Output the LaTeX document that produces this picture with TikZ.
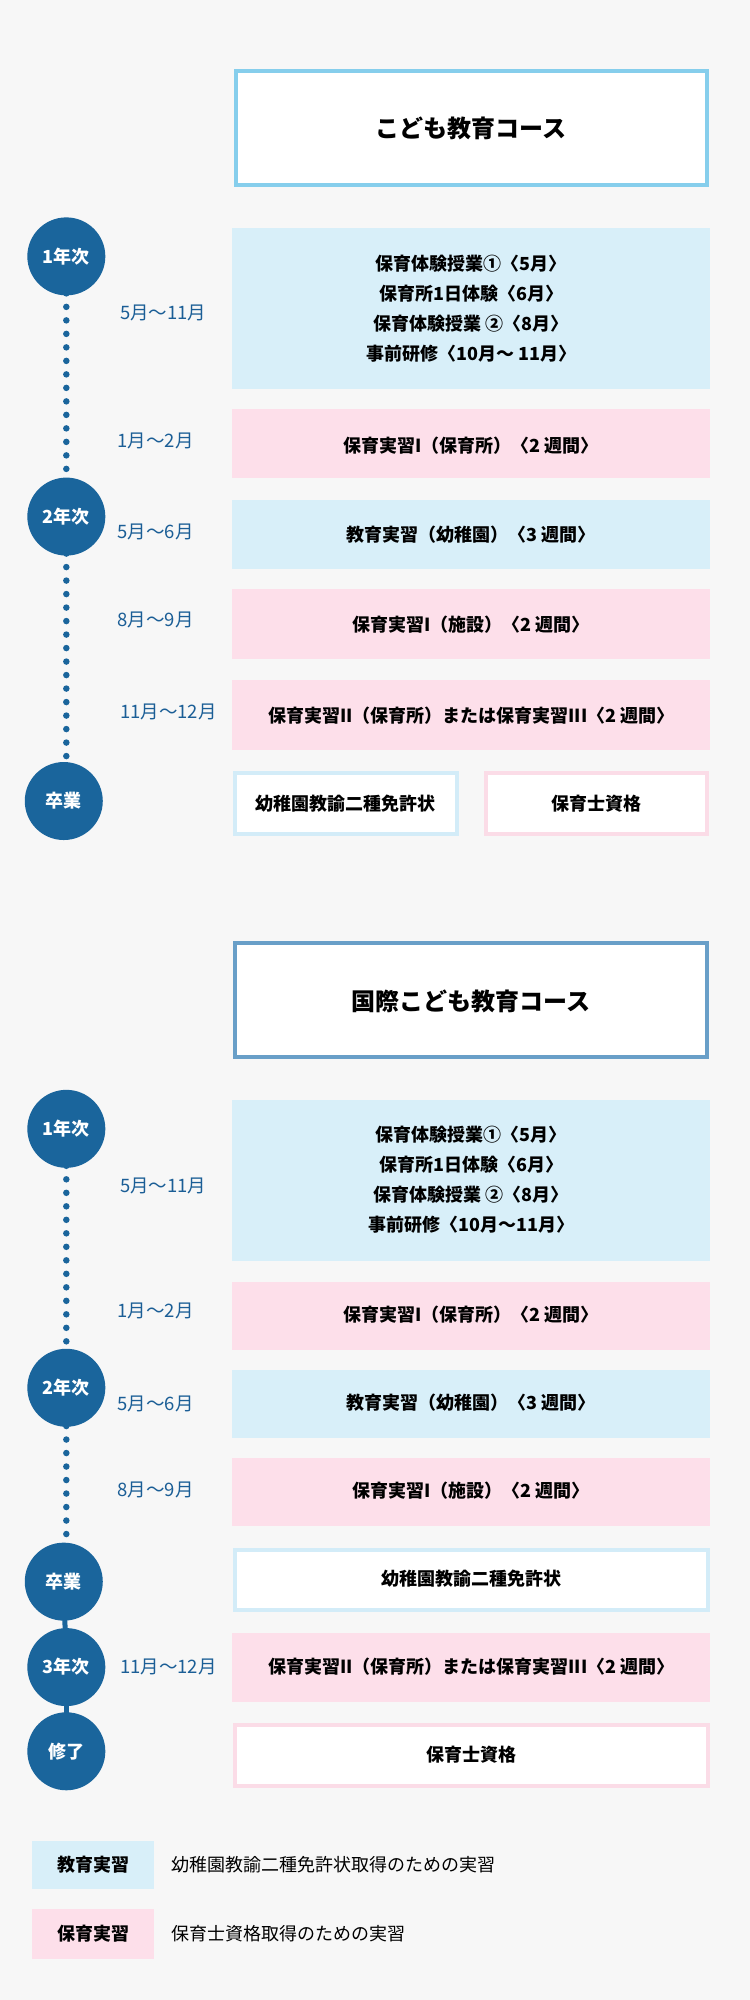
\documentclass[tikz,border=0pt]{standalone}
\usepackage{fontspec}
\setmainfont{Noto Sans CJK JP}
\definecolor{bg}{HTML}{F7F7F7}
\definecolor{lb}{HTML}{D8EFF9}
\definecolor{pk}{HTML}{FDDFEA}
\definecolor{circ}{HTML}{1A659C}
\definecolor{mon}{HTML}{1B5E96}
\definecolor{tb1}{HTML}{86CEEC}
\definecolor{tb2}{HTML}{699FC8}
\definecolor{cbl}{HTML}{D3ECF8}
\definecolor{cpk}{HTML}{FBDCE7}
\begin{document}
\begin{tikzpicture}[x=1.2755pt,y=-1.2755pt,
 yr/.style={circle,fill=circ,minimum size=78pt,inner sep=0pt,text=white,font=\fontsize{18}{20}\selectfont\bfseries},
 mo/.style={text=mon,font=\fontsize{18.5}{20}\selectfont},
 bt/.style={font=\fontsize{18}{30}\selectfont\bfseries,align=center},
 dots/.style={circ,line width=6.5pt,line cap=round,dash pattern=on 0pt off 13.5pt}]
\fill[bg] (0,0) rectangle (588,1568);
% section 1
\draw[tb1,line width=4pt,fill=white] (185,56) rectangle (554,145);
\node[font=\fontsize{24}{26}\selectfont\bfseries] (t1) at (369.5,101) {こども教育コース};
\draw[dots] (52,230) -- (52,376);
\draw[dots] (52,434) -- (52,598);
\node[yr] (y1) at (52,201) {1年次};
\node[yr] (y2) at (52,405) {2年次};
\node[yr] (g1) at (50,628) {卒業};
\fill[lb] (182,179) rectangle (557,305);
\node[bt] (a1) at (369.5,242) {保育体験授業①〈5月〉\\保育所1日体験〈6月〉\\保育体験授業 ②〈8月〉\\事前研修〈10月〜 11月〉};
\node[mo] (m1) at (128,245) {5月〜11月};
\fill[pk] (182,321) rectangle (557,375);
\node[bt] (b1) at (369.5,349) {保育実習I（保育所）〈2 週間〉};
\node[mo] (m2) at (122,346) {1月〜2月};
\fill[lb] (182,392) rectangle (557,446);
\node[bt] (c1) at (369.5,419) {教育実習（幼稚園）〈3 週間〉};
\node[mo] (m3) at (122,417) {5月〜6月};
\fill[pk] (182,462) rectangle (557,517);
\node[bt] (d1) at (369.5,490) {保育実習I（施設）〈2 週間〉};
\node[mo] (m4) at (122,486) {8月〜9月};
\fill[pk] (182,533) rectangle (557,588);
\node[bt] (e1) at (369.5,561) {保育実習II（保育所）または保育実習III〈2 週間〉};
\node[mo] (m5) at (132,558) {11月〜12月};
\draw[cbl,line width=4pt,fill=white] (184,606) rectangle (358,654);
\node[bt] (k1) at (271,630) {幼稚園教諭二種免許状};
\draw[cpk,line width=4pt,fill=white] (381,606) rectangle (554,654);
\node[bt] (h1) at (467.5,630) {保育士資格};
% section 2
\draw[tb2,line width=4pt,fill=white] (184,739) rectangle (554,829);
\node[font=\fontsize{24}{26}\selectfont\bfseries] (t2) at (369,785) {国際こども教育コース};
\draw[dots] (52,914) -- (52,1060);
\draw[dots] (52,1118) -- (52,1210);
\draw[circ,line width=5pt] (50,1250) -- (52,1300);
\draw[circ,line width=5pt] (52,1320) -- (52,1365);
\node[yr] (y3) at (52,885) {1年次};
\node[yr] (y4) at (52,1088) {2年次};
\node[yr] (g2) at (50,1240) {卒業};
\node[yr] (y5) at (52,1307) {3年次};
\node[yr] (s2) at (52,1373) {修了};
\fill[lb] (182,862) rectangle (557,989);
\node[bt] (a2) at (369.5,925) {保育体験授業①〈5月〉\\保育所1日体験〈6月〉\\保育体験授業 ②〈8月〉\\事前研修〈10月〜11月〉};
\node[mo] (n1) at (128,930) {5月〜11月};
\fill[pk] (182,1005) rectangle (557,1058);
\node[bt] (b2) at (369.5,1031) {保育実習I（保育所）〈2 週間〉};
\node[mo] (n2) at (122,1028) {1月〜2月};
\fill[lb] (182,1074) rectangle (557,1127);
\node[bt] (c2) at (369.5,1100) {教育実習（幼稚園）〈3 週間〉};
\node[mo] (n3) at (122,1101) {5月〜6月};
\fill[pk] (182,1143) rectangle (557,1196);
\node[bt] (d2) at (369.5,1169) {保育実習I（施設）〈2 週間〉};
\node[mo] (n4) at (122,1168) {8月〜9月};
\draw[cbl,line width=4pt,fill=white] (184,1215) rectangle (555,1262);
\node[bt] (k2) at (369.5,1238) {幼稚園教諭二種免許状};
\fill[pk] (182,1280) rectangle (557,1334);
\node[bt] (e2) at (369.5,1307) {保育実習II（保育所）または保育実習III〈2 週間〉};
\node[mo] (n5) at (132,1307) {11月〜12月};
\draw[cpk,line width=4pt,fill=white] (184,1352) rectangle (555,1400);
\node[bt] (h2) at (369.5,1376) {保育士資格};
% legend
\fill[lb] (25,1443) rectangle (121,1481);
\node[bt] (l1) at (73,1462) {教育実習};
\node[anchor=west,font=\fontsize{18}{20}\selectfont] (lt1) at (132,1462) {幼稚園教諭二種免許状取得のための実習};
\fill[pk] (25,1497) rectangle (121,1536);
\node[bt] (l2) at (73,1516) {保育実習};
\node[anchor=west,font=\fontsize{18}{20}\selectfont] (lt2) at (132,1516) {保育士資格取得のための実習};
\end{tikzpicture}
\end{document}
